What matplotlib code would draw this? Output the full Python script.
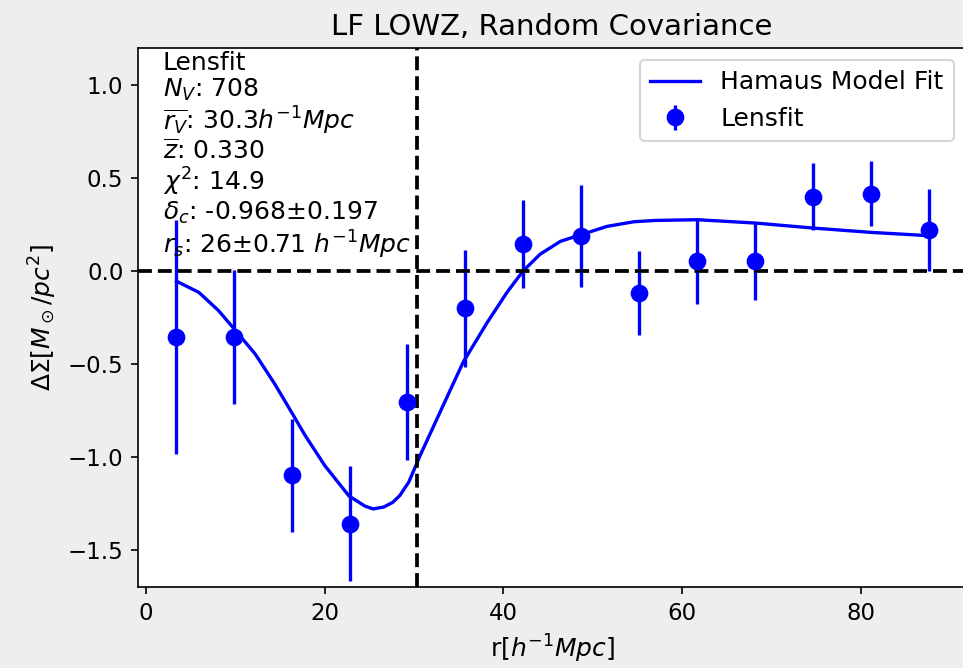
"""Stacked void lensing profile: LOWZ voids, Lensfit shears, Hamaus fit."""

import matplotlib

matplotlib.use("Agg")
import matplotlib.pyplot as plt  # noqa: E402

# measured Delta Sigma per radial bin
r_bins = [3.3, 9.8, 16.3, 22.8, 29.2, 35.7, 42.2, 48.7, 55.2, 61.7, 68.2, 74.7, 81.2, 87.6]
dsig = [-0.355, -0.355, -1.10, -1.36, -0.705, -0.20, 0.145, 0.19, -0.12, 0.055, 0.055, 0.40, 0.415, 0.22]
dsig_err = [0.63, 0.36, 0.305, 0.31, 0.31, 0.315, 0.235, 0.275, 0.225, 0.23, 0.21, 0.18, 0.175, 0.22]

# Hamaus model curve
r_fit = [3.4, 5.9, 8.1, 10.0, 12.2, 14.4, 16.5, 17.8, 20.0, 22.7, 24.5, 25.4, 26.6, 27.6,
         28.4, 29.4, 30.7, 32.9, 35.5, 38.2, 40.4, 42.2, 44.1, 46.4, 48.8, 51.6, 54.6,
         57.0, 61.7, 68.2, 74.7, 81.1, 87.6]
dsig_fit = [-0.055, -0.115, -0.213, -0.32, -0.446, -0.608, -0.778, -0.885, -1.047, -1.21,
            -1.265, -1.28, -1.27, -1.245, -1.208, -1.136, -0.99, -0.76, -0.49, -0.276,
            -0.115, 0.0, 0.09, 0.16, 0.197, 0.24, 0.265, 0.272, 0.276, 0.258, 0.231,
            0.208, 0.19]

r_void_mean = 30.3

info_lines = [
    "Lensfit",
    r"$N_V$: 708",
    r"$\overline{r_V}$: 30.3$h^{-1}Mpc$",
    r"$\overline{z}$: 0.330",
    r"$\chi^2$: 14.9",
    r"$\delta_c$: -0.968$\pm$0.197",
    r"$r_s$: 26$\pm$0.71 $h^{-1}Mpc$",
]

fig = plt.figure(figsize=(963 / 150, 668 / 150), dpi=150, facecolor="#eceef0")
ax = fig.add_axes([0.1433, 0.1213, 0.860, 0.8069])

ax.plot(r_fit, dsig_fit, "-", color="blue", lw=1.6, label="Hamaus Model Fit")
ax.errorbar(r_bins, dsig, yerr=dsig_err, fmt="o", color="blue", ms=7.5,
            elinewidth=1.6, label="Lensfit")
ax.axhline(0.0, color="k", ls="--", lw=1.8)
ax.axvline(r_void_mean, color="k", ls="--", lw=1.8)

ax.set_ylim(-1.7, 1.2)
ax.set_title("LF LOWZ, Random Covariance", fontsize=14)
ax.set_xlabel(r"r[$h^{-1}Mpc$]", fontsize=12)
ax.set_ylabel(r"$\Delta\Sigma[M_\odot/pc^2]$", fontsize=12)
ax.tick_params(labelsize=11)
ax.legend(loc="upper right", fontsize=12)
ax.text(0.03, 0.995, "\n".join(info_lines), transform=ax.transAxes,
        va="top", ha="left", fontsize=12, linespacing=1.09)

fig.savefig("out.png", dpi=150, facecolor=fig.get_facecolor())
